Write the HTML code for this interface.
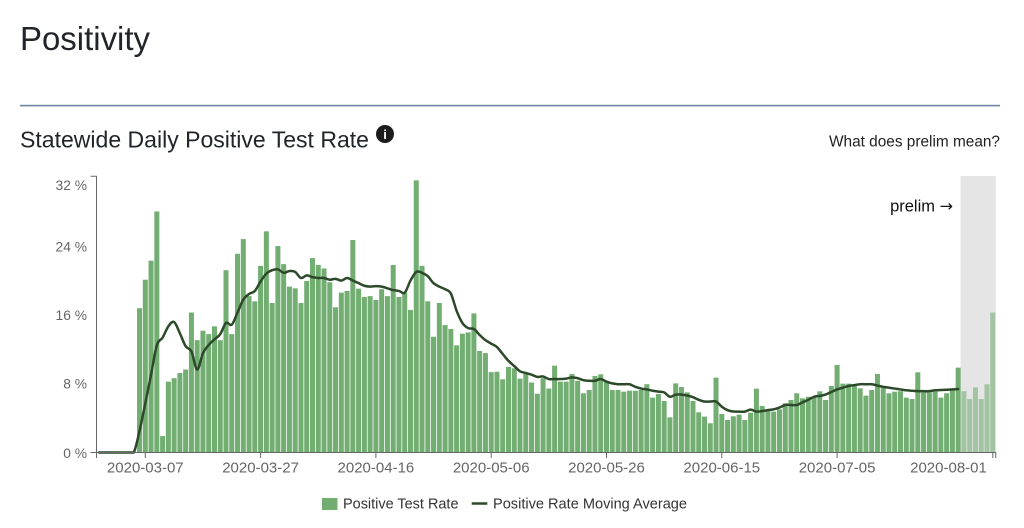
<!DOCTYPE html>
<html>
<head>
<meta charset="utf-8">
<style>
  html,body{margin:0;padding:0;background:#fff;}
  body{width:1024px;height:528px;overflow:hidden;}
  svg{display:block;}
  text{font-family:"Liberation Sans",Arial,sans-serif;}
</style>
</head>
<body>
<svg id="c" width="1024" height="528" viewBox="0 0 1024 528" xmlns="http://www.w3.org/2000/svg">
  <!-- Header -->
  <text x="20" y="50" font-size="33" fill="#212529" textLength="130" lengthAdjust="spacingAndGlyphs">Positivity</text>
  <rect x="20" y="104.8" width="980" height="1.6" fill="#7086a3"/>
  <text x="20" y="147.7" font-size="22.8" fill="#212529" textLength="349" lengthAdjust="spacingAndGlyphs">Statewide Daily Positive Test Rate</text>
  <circle cx="385" cy="134" r="9" fill="#1c1c1c"/>
  <text x="385" y="139" font-size="13" font-weight="bold" fill="#fff" text-anchor="middle">i</text>
  <text x="1000" y="146.5" font-size="15.4" fill="#222" text-anchor="end" textLength="171" lengthAdjust="spacingAndGlyphs">What does prelim mean?</text>

  <!-- prelim region -->
  <rect x="960.6" y="176" width="35.2" height="276.5" fill="#e5e5e5"/>
  <text x="953" y="211.5" font-size="16.5" fill="#111" text-anchor="end">prelim <tspan font-family="DejaVu Sans, sans-serif" font-size="16">→</tspan></text>

  <g id="bars"></g>
  <path id="ma" d="" fill="none" stroke="#2c4a2a" stroke-width="2.5" stroke-linejoin="round" stroke-linecap="round"/>

  <!-- Y axis -->
  <path d="M90.5,176.2H96.5V452.5H90.5" fill="none" stroke="#666" stroke-width="1"/>
  <g font-size="13.8" fill="#666" text-anchor="end">
    <text x="87" y="190">32 %</text>
    <text x="87" y="251.5">24 %</text>
    <text x="87" y="320">16 %</text>
    <text x="87" y="388.5">8 %</text>
    <text x="87" y="458">0 %</text>
  </g>

  <!-- X axis -->
  <path d="M96.5,458V452.5H995.7V458" fill="none" stroke="#666" stroke-width="1"/>
  <g stroke="#666" stroke-width="1">
    <line x1="145.3" y1="452.5" x2="145.3" y2="458"/>
    <line x1="260.6" y1="452.5" x2="260.6" y2="458"/>
    <line x1="375.9" y1="452.5" x2="375.9" y2="458"/>
    <line x1="491.2" y1="452.5" x2="491.2" y2="458"/>
    <line x1="606.5" y1="452.5" x2="606.5" y2="458"/>
    <line x1="721.8" y1="452.5" x2="721.8" y2="458"/>
    <line x1="837.1" y1="452.5" x2="837.1" y2="458"/>
    <line x1="992.8" y1="452.5" x2="992.8" y2="458"/>
  </g>
  <g font-size="15" fill="#666" text-anchor="middle">
    <text x="145.3" y="472.5">2020-03-07</text>
    <text x="260.6" y="472.5">2020-03-27</text>
    <text x="375.9" y="472.5">2020-04-16</text>
    <text x="491.2" y="472.5">2020-05-06</text>
    <text x="606.5" y="472.5">2020-05-26</text>
    <text x="721.8" y="472.5">2020-06-15</text>
    <text x="837.1" y="472.5">2020-07-05</text>
    <text x="948.5" y="472.5">2020-08-01</text>
  </g>

  <!-- Legend -->
  <rect x="322" y="498" width="15.5" height="12" fill="#72ad72"/>
  <text x="343" y="508.5" font-size="14.4" fill="#333" textLength="115.5" lengthAdjust="spacingAndGlyphs">Positive Test Rate</text>
  <line x1="471.7" y1="503.5" x2="487.3" y2="503.5" stroke="#2c4a2a" stroke-width="2.5"/>
  <text x="493" y="508.5" font-size="14.4" fill="#333" textLength="194" lengthAdjust="spacingAndGlyphs">Positive Rate Moving Average</text>
</svg>
<script>
(function(){
  var x0=96.3, bw=5.765, y0=452.5, k=8.64;
  var bars=[0,0,0,0,0,0,0,
  16.7,20.0,22.2,27.9,1.9,8.2,8.6,9.2,9.6,16.2,
  13.0,14.1,13.7,14.6,13.0,21.1,13.7,23.0,24.7,18.1,
  17.5,21.6,25.6,17.3,23.9,21.8,19.2,19.0,17.3,19.85,
  22.5,21.7,21.3,19.7,16.8,18.5,18.7,24.6,18.96,18.0,
  18.1,17.65,18.9,18.1,21.7,18.0,18.5,16.5,31.5,21.6,
  17.5,13.4,17.3,14.75,14.3,12.4,13.75,13.9,16.1,11.75,
  11.5,9.3,9.35,8.47,9.9,9.75,8.55,9.1,8.1,6.8,
  8.6,7.4,10.05,8.2,8.2,9.1,8.3,6.85,7.23,8.85,
  9.05,8.3,7.23,7.23,7.04,7.15,7.15,7.23,7.9,6.35,
  6.77,5.96,4.07,8.0,7.58,6.96,5.96,4.65,4.15,3.38,
  8.66,4.46,3.76,4.19,4.38,3.76,4.61,7.39,5.38,4.92,
  4.73,5.0,5.69,6.08,6.85,6.27,6.46,6.46,7.08,6.08,
  7.7,10.13,7.97,7.97,7.8,7.43,6.58,7.23,9.09,7.54,
  6.85,7.04,7.1,6.35,6.19,9.28,6.96,6.96,7.04,6.35,
  6.85,7.35,9.82,7.1,6.19,7.54,6.19,7.9,16.2];
  var ma=[0,0,0,0,0,0,0,
  2.5,5.7,9.0,12.4,13.3,14.6,15.1,13.8,12.3,11.7,
  9.6,11.5,12.45,13.1,13.7,15.0,14.8,16.2,17.7,18.35,
  18.7,19.8,20.7,21.1,21.2,20.8,21.0,20.9,20.2,20.5,
  20.3,20.2,20.2,20.0,20.1,19.9,20.2,19.9,19.6,19.3,
  19.2,19.25,19.2,19.0,18.8,18.7,18.5,19.9,20.9,20.8,
  20.4,19.6,19.2,18.9,18.4,16.4,15.0,14.4,14.3,13.6,
  13.0,12.6,12.2,11.4,10.6,10.0,9.4,9.2,9.0,8.75,
  8.8,8.5,8.5,8.5,8.55,8.7,8.6,8.37,8.3,8.3,
  8.5,8.2,8.0,7.9,7.9,7.9,7.6,7.4,7.3,7.15,
  7.05,6.96,6.45,6.7,6.7,6.6,6.4,6.1,5.9,5.9,
  5.9,5.3,4.9,4.75,4.73,4.73,4.96,4.73,4.8,4.9,
  5.0,5.2,5.5,5.5,5.5,5.8,6.1,6.45,6.55,6.7,
  7.0,7.3,7.5,7.7,7.8,7.9,7.9,7.9,7.75,7.6,
  7.5,7.4,7.3,7.2,7.15,7.1,7.1,7.1,7.2,7.23,
  7.27,7.3,7.35];
  var ns="http://www.w3.org/2000/svg";
  var g=document.getElementById("bars");
  for(var i=0;i<bars.length;i++){
    var v=bars[i]; if(v<=0) continue;
    var r=document.createElementNS(ns,"rect");
    var h=v*k;
    r.setAttribute("x",(x0+bw*i+0.38).toFixed(2));
    r.setAttribute("y",(y0-h).toFixed(2));
    r.setAttribute("width","5.0");
    r.setAttribute("height",h.toFixed(2));
    r.setAttribute("fill", i>=150 ? "#a3c4a3" : "#72ad72");
    g.appendChild(r);
  }
  var p=[];
  for(var j=0;j<ma.length;j++){ p.push([x0+bw*(j+0.5), y0-ma[j]*k]); }
  var d="M"+p[0][0].toFixed(2)+","+p[0][1].toFixed(2);
  for(var j=0;j<p.length-1;j++){
    var a=p[Math.max(j-1,0)], b=p[j], c=p[j+1], e=p[Math.min(j+2,p.length-1)];
    var c1x=b[0]+(c[0]-a[0])/6, c1y=b[1]+(c[1]-a[1])/6;
    var c2x=c[0]-(e[0]-b[0])/6, c2y=c[1]-(e[1]-b[1])/6;
    if(c1y>y0) c1y=y0; if(c2y>y0) c2y=y0;
    d+="C"+c1x.toFixed(2)+","+c1y.toFixed(2)+" "+c2x.toFixed(2)+","+c2y.toFixed(2)+" "+c[0].toFixed(2)+","+c[1].toFixed(2);
  }
  document.getElementById("ma").setAttribute("d",d);
})();
</script>
</body>
</html>
